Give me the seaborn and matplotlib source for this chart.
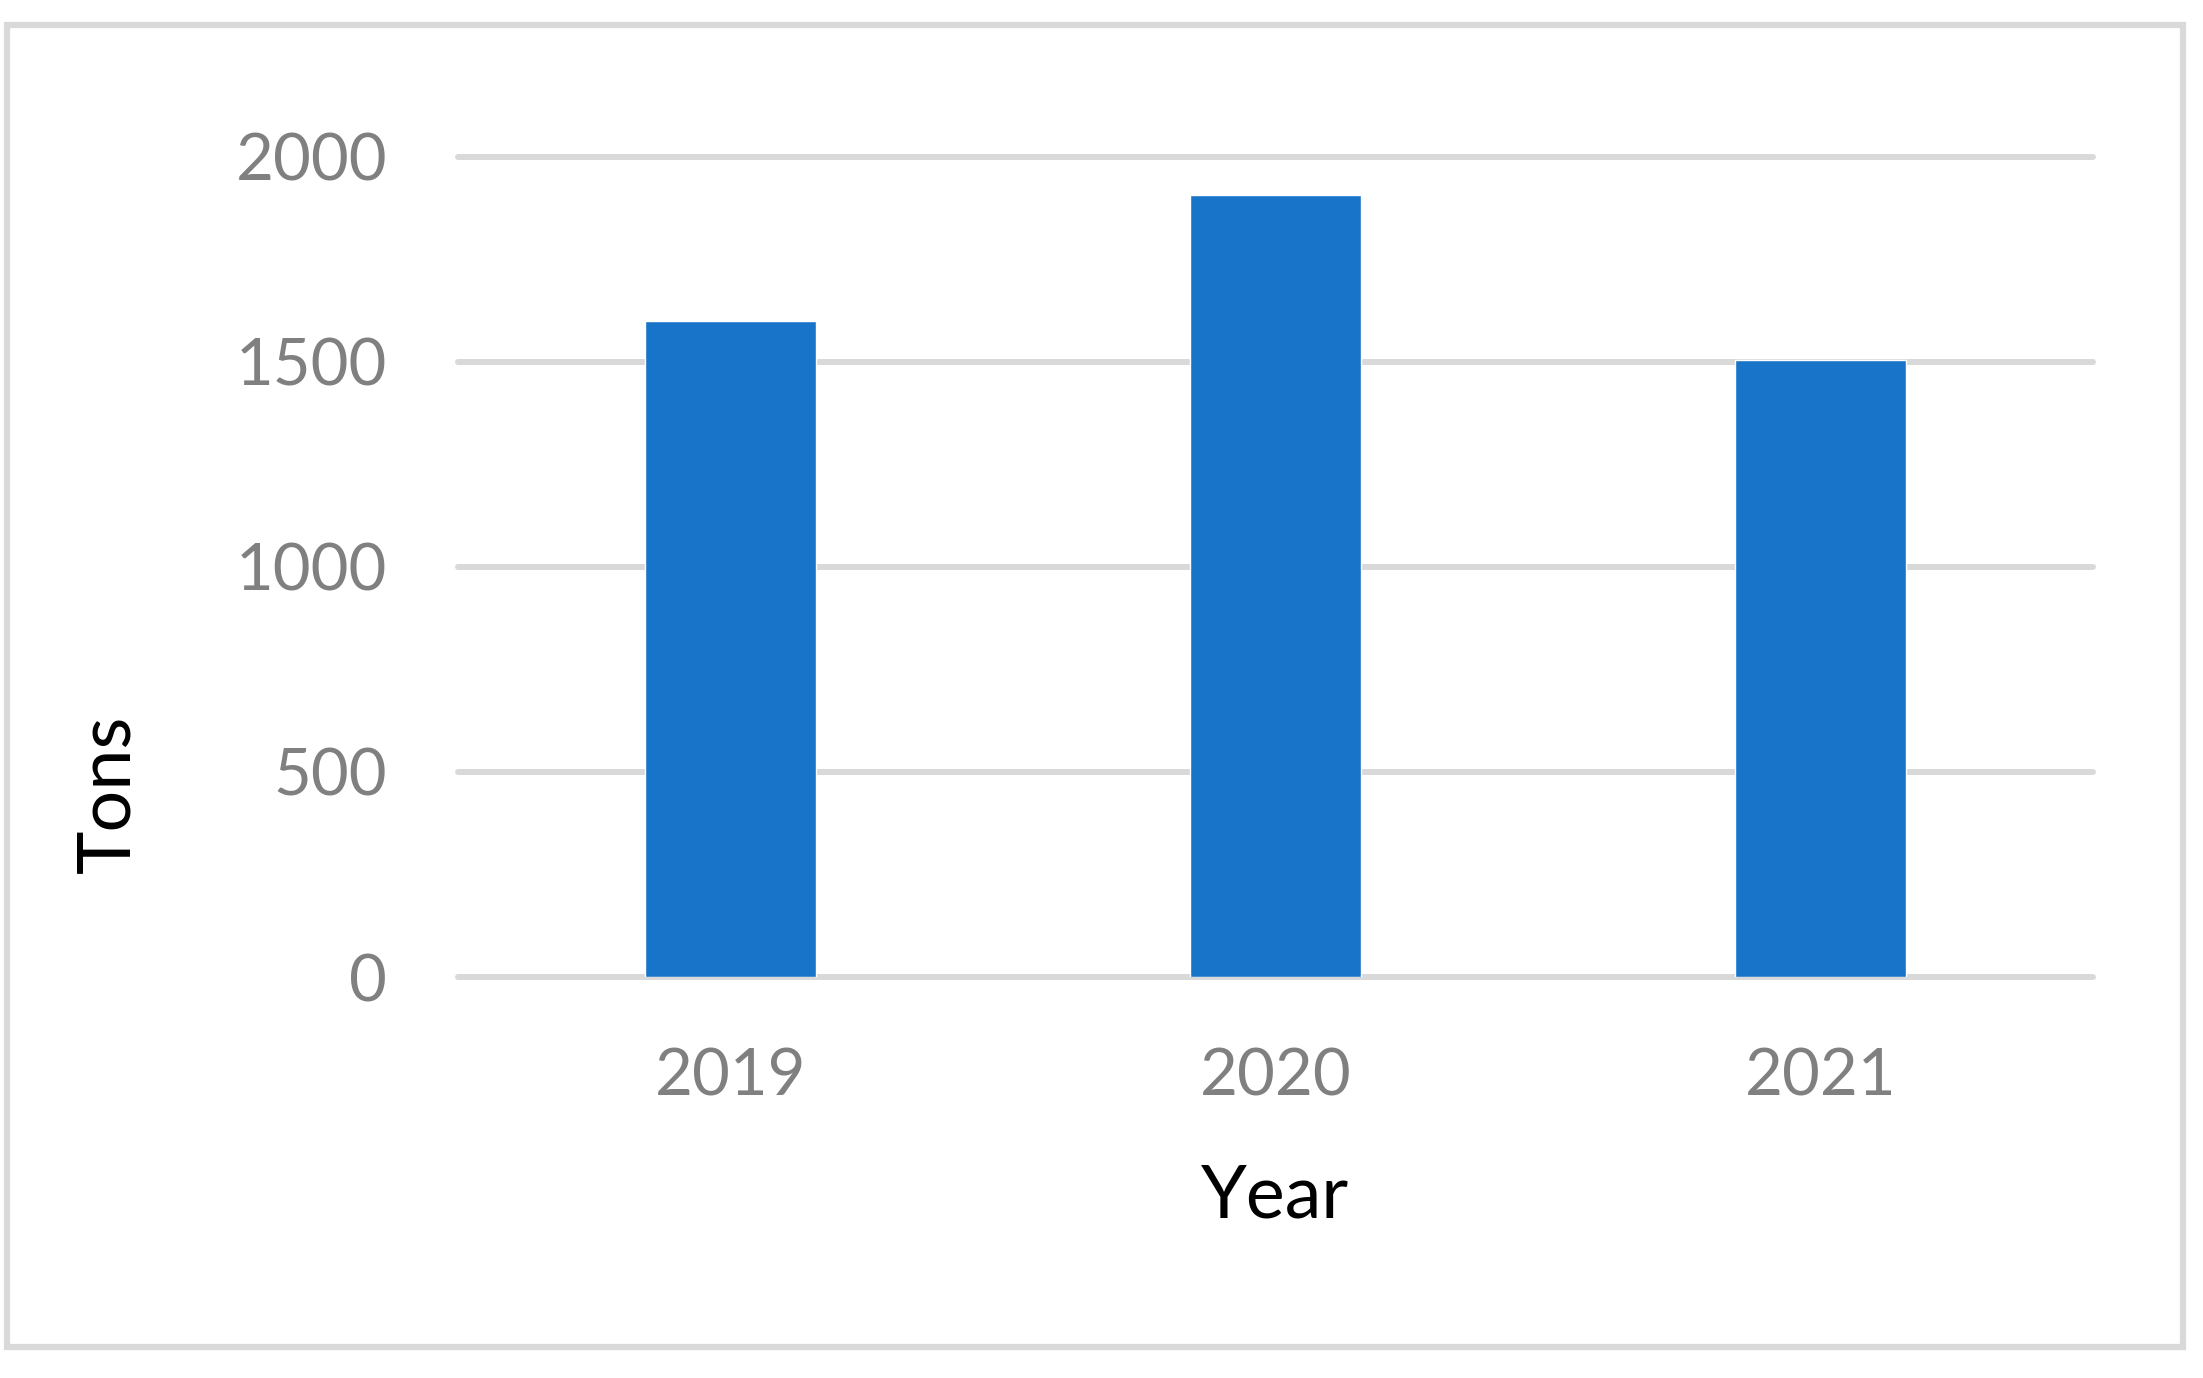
import matplotlib
matplotlib.use("Agg")
import pandas as pd
import seaborn as sns
import matplotlib.pyplot as plt
from matplotlib.patches import Rectangle

years = ["2019", "2020", "2021"]
tons = [1600, 1908, 1505]
y_ticks = [0, 500, 1000, 1500, 2000]

W, H = 2203, 1378
BAR_COLOR = "#1874C8"
GRID_COLOR = "#D9D9D9"
TICK_COLOR = "#808080"

data = pd.DataFrame({"Year": years, "Tons": tons})

sns.set_theme(style="white")
plt.rcParams["font.family"] = ["Lato", "DejaVu Sans"]

fig = plt.figure(figsize=(W / 100, H / 100), dpi=100)
fig.patch.set_facecolor("white")

# plot area in pixels: x 458..2093, y 157..977 (top origin)
ax = fig.add_axes([458 / W, (H - 977) / H, (2093 - 458) / W, (977 - 157) / H])

sns.barplot(data=data, x="Year", y="Tons", color=BAR_COLOR, width=0.314,
            saturation=1, ax=ax, zorder=3)

ax.set_xlim(-0.5, 2.5)
ax.set_ylim(0, 2000)
ax.set_yticks(y_ticks)
ax.set_yticklabels([str(v) for v in y_ticks])

ax.set_axisbelow(True)
ax.yaxis.grid(True, color=GRID_COLOR, linewidth=4.3)
ax.xaxis.grid(False)
for line in ax.get_ygridlines():
    line.set_clip_on(False)
for sp in ax.spines.values():
    sp.set_visible(False)

ax.tick_params(axis="both", length=0, labelsize=47, colors=TICK_COLOR)
ax.tick_params(axis="x", pad=51)
ax.tick_params(axis="y", pad=51)

ax.set_xlabel("Year", fontsize=53, color="black")
ax.set_ylabel("Tons", fontsize=53, color="black")
ax.xaxis.set_label_coords(0.5, -0.228)
ax.yaxis.label.set_verticalalignment("center")
ax.yaxis.set_label_coords(-0.2134, 0.223)

# outer chart border
fig.patches.append(Rectangle((6.5 / W, (H - 1347) / H), (2183 - 6.5) / W, (1347 - 25) / H,
                             transform=fig.transFigure, fill=False,
                             edgecolor=GRID_COLOR, linewidth=4.5))

fig.savefig("out.png", dpi=100, facecolor="white")
